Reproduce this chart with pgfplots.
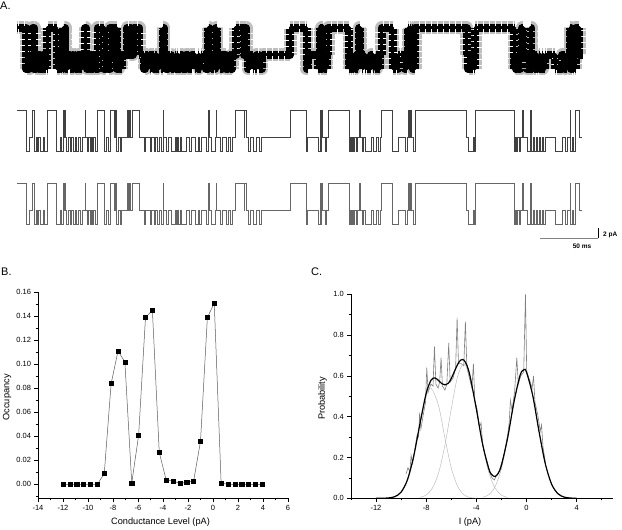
\documentclass[border=0pt]{standalone}
\usepackage{fontspec}
\setmainfont{Liberation Sans}
\usepackage{pgfplots}
\usepackage{pgfplotstable}
\pgfplotsset{compat=1.18}

% idealised record: time (px-scaled ms) and level (pA)
\pgfplotstableread{
x I
17.3 0
26 -8.2
29.3 -5.4
32.7 0
34 -8.2
36 -5.4
37.3 -8.2
38.3 -5.4
40 -8.2
43 -5.4
44.3 -8.2
47.3 0
56.7 -8.2
60 -5.4
61 -8.2
63.3 0
64 -5.4
64.7 0
65.3 -5.4
66 -8.2
68 -5.4
70 -8.2
71.7 -5.4
73.3 -8.2
75 -5.4
76 -8.2
78.3 -5.4
80 -8.2
82 -5.4
85 0
85.7 -5.4
87 -8.2
88.3 -5.4
90 -8.2
91 -5.4
92 -8.2
93.3 -5.4
95 -8.2
97.7 0
104.3 -8.2
106 -5.4
108 -8.2
110 0
114 -5.4
114.7 0
115.3 -5.4
116 0
116.7 -8.2
118 -5.4
120 -8.2
121.7 -5.4
127.3 0
128 -5.4
129 0
129.7 -5.4
130.3 0
130.7 -5.4
132.7 0
139.3 -5.4
144 -8.2
145 -5.4
150 -8.2
151 -5.4
154 -8.2
155 -5.4
157 -8.2
159 -5.4
161 -8.2
163 0
163.7 -5.4
166 -8.2
168.3 -5.4
171 -8.2
175 -5.4
176 -8.2
177 -5.4
178 -8.2
180 -5.4
181.7 -8.2
186 -5.4
189 -8.2
191.7 -5.4
195 -8.2
198 -5.4
199 -8.2
201 -5.4
206 -8.2
208.3 0
209 -5.4
211 -8.2
215 -5.4
216 0
216.7 -5.4
220 -8.2
222 -5.4
226 -8.2
228.3 -5.4
230 -8.2
232 -5.4
235.7 0
244 -5.4
244.7 0
246 -5.4
248 -8.2
250 -5.4
253 -8.2
256.7 -5.4
259 -8.2
261.7 -5.4
290 0
306.7 -8.2
307.7 -5.4
318 -8.2
320 0
321 -8.2
321.7 0
322.3 -5.4
325 -8.2
326.7 -5.4
328.3 0
349.3 -8.2
350 -5.4
351 -8.2
352 -5.4
353 -8.2
354.7 -5.4
356 -8.2
357.3 -5.4
359.3 0
360 -5.4
362 -8.2
363 -5.4
365 -8.2
371 -5.4
373 -8.2
376 -5.4
378 -8.2
380 -5.4
381.7 0
392.7 -8.2
398 -5.4
405 -8.2
407 -5.4
408 0
409 -5.4
410 0
411.7 -5.4
413 -8.2
415 0
466.7 -5.4
468 -8.2
473 -5.4
474 -8.2
475 0
514.3 -8.2
515 -5.4
516 -8.2
517 -5.4
519 -8.2
520 -5.4
522.3 0
523 -5.4
527 -8.2
530.7 0
531.3 -8.2
533 -5.4
534 -8.2
536 -5.4
537 -8.2
539 -5.4
540 -8.2
542 -5.4
543 -8.2
545 -5.4
555 -8.2
562 -5.4
565 -8.2
567 -5.4
570 0
570.7 -8.2
572 -5.4
573 -8.2
575.7 0
579 -5.4
582.3 -5.4
}\ideal

\pgfplotstableread{
x y
-12 0
-11.45 0
-10.9 0
-10.35 0
-9.8 0
-9.25 0
-8.7 0.0089
-8.15 0.0839
-7.6 0.111
-7.05 0.102
-6.5 0.0011
-5.95 0.0408
-5.4 0.139
-4.85 0.145
-4.3 0.0267
-3.75 0.0036
-3.2 0.0028
-2.65 0.0008
-2.1 0.0017
-1.55 0.0028
-1.0 0.0358
-0.45 0.139
0.1 0.151
0.65 0.0011
1.2 0
1.75 0
2.3 0
2.85 0
3.4 0
3.95 0
}\occ

\pgfplotstableread{
x y
-11 0.0017
-10.5 0.008
-10 0.030
-9.5 0.089
-9 0.203
-8.5 0.360
-8 0.498
-7.6 0.540
-7 0.451
-6.5 0.295
-6 0.150
-5.5 0.060
-5 0.018
-4.5 0.004
-4 0.001
}\gone

\pgfplotstableread{
x y
-8.5 0.0042
-8 0.016
-7.5 0.050
-7 0.126
-6.5 0.261
-6 0.437
-5.5 0.595
-5 0.660
-4.5 0.595
-4 0.437
-3.5 0.261
-3 0.126
-2.5 0.050
-2 0.016
-1.5 0.0042
}\gtwo

\pgfplotstableread{
x y
-3.5 0.0045
-3 0.018
-2.5 0.057
-2 0.145
-1.5 0.293
-1 0.471
-0.5 0.605
-0.2 0.630
0 0.619
0.5 0.504
1 0.328
1.5 0.170
2 0.070
2.5 0.023
3 0.006
3.5 0.0013
}\gthree

\pgfplotstableread{
x y
-12 0.0000
-11.5 0.0003
-11 0.0017
-10.5 0.008
-10 0.030
-9.5 0.089
-9 0.204
-8.5 0.364
-8 0.514
-7.6 0.580
-7.3 0.590
-7 0.577
-6.75 0.562
-6.5 0.556
-6.25 0.563
-6 0.587
-5.5 0.655
-5.25 0.677
-5 0.678
-4.75 0.652
-4.5 0.599
-4 0.439
-3.5 0.266
-3 0.144
-2.75 0.115
-2.5 0.107
-2.25 0.123
-2 0.161
-1.5 0.297
-1 0.471
-0.5 0.605
-0.2 0.630
0 0.619
0.5 0.504
1 0.328
1.5 0.170
2 0.070
2.5 0.023
3 0.006
3.5 0.0013
4 0.0002
}\gsum

\pgfplotstableread{
x y
-9.6 0.12
-9.45 0.15
-9.3 0.13
-9.2 0.21
-9.08 0.17
-8.9 0.24
-8.72 0.31
-8.6 0.30
-8.52 0.42
-8.42 0.34
-8.2 0.42
-8.05 0.47
-7.95 0.64
-7.84 0.52
-7.62 0.56
-7.45 0.55
-7.34 0.745
-7.22 0.56
-7.05 0.54
-6.92 0.57
-6.81 0.69
-6.7 0.55
-6.5 0.53
-6.35 0.56
-6.2 0.76
-6.08 0.57
-5.85 0.59
-5.65 0.64
-5.53 0.885
-5.42 0.66
-5.2 0.66
-5.0 0.65
-4.87 0.866
-4.75 0.64
-4.55 0.59
-4.35 0.54
-4.23 0.66
-4.12 0.48
-3.95 0.44
-3.75 0.35
-3.62 0.37
-3.5 0.27
-3.3 0.21
-3.09 0.17
-2.95 0.13
-2.75 0.10
-2.55 0.09
-2.42 0.11
-2.25 0.12
-2.05 0.16
-1.81 0.21
-1.68 0.25
-1.5 0.31
-1.38 0.37
-1.28 0.48
-1.15 0.43
-0.95 0.52
-0.77 0.69
-0.65 0.56
-0.45 0.60
-0.22 0.62
-0.08 1.0
0.02 0.62
0.25 0.58
0.45 0.54
0.56 0.60
0.68 0.47
0.9 0.41
1.1 0.33
1.2 0.36
1.32 0.25
1.5 0.18
}\hist

\pgfplotsset{
  orig/.style={
    scale only axis, anchor=south west,
    axis lines*=left, tick align=outside,
    major tick length=3.5pt, minor tick length=2pt,
    tick style={black, line width=0.5pt},
    axis line style={black, line width=0.6pt},
    tick label style={font=\fontsize{7.5}{9}\selectfont},
    label style={font=\fontsize{9.2}{11}\selectfont},
    /pgf/number format/assume math mode=true,
    clip=false,
  }
}

\begin{document}
\begin{tikzpicture}
\useasboundingbox (0pt,0pt) rectangle (622pt,530pt);

% ---------- Panel A ----------
\begin{axis}[at={(0pt,270pt)}, anchor=south west, scale only axis,
  width=622pt, height=260pt, xmin=0, xmax=622, ymin=-52, ymax=0,
  hide axis, clip=false]
% raw record: noisy band
\addplot[const plot, gray!50, line width=13pt, line join=round, dash pattern=on 0.5pt off 0.7pt, forget plot]
  table[x=x, y expr=\thisrow{I}-5.6] {\ideal};
\addplot[const plot, black, line width=8pt, line join=round, dash pattern=on 0.6pt off 0.6pt, forget plot]
  table[x=x, y expr=\thisrow{I}-5.6] {\ideal};
\addplot[const plot, black, line width=3pt, line join=round, forget plot]
  table[x=x, y expr=\thisrow{I}-5.6] {\ideal};
% idealised record
\addplot[const plot, black!75, line width=0.5pt, forget plot]
  table[x=x, y expr=\thisrow{I}-22] {\ideal};
% filtered record
\addplot[const plot, black!60, line width=0.55pt, forget plot]
  table[x=x, y expr=\thisrow{I}-36.6] {\ideal};
% scale bar
\draw[gray, line width=0.8pt] (axis cs:540,-47.6) -- (axis cs:598,-47.6);
\draw[black, line width=0.8pt] (axis cs:598,-47.6) -- (axis cs:598,-45.6);
\node[anchor=west, inner sep=0pt, font=\fontsize{6.5}{8}\selectfont\bfseries] at (axis cs:603,-47) {2 pA};
\node[inner sep=0pt, font=\fontsize{6.5}{8}\selectfont\bfseries] at (axis cs:582,-49.2) {50 ms};
\end{axis}

\node[anchor=base west, inner sep=0pt, font=\fontsize{11}{13}\selectfont] at (0pt,520.5pt) {A.};
\node[anchor=base west, inner sep=0pt, font=\fontsize{11}{13}\selectfont] at (1pt,254pt) {B.};
\node[anchor=base west, inner sep=0pt, font=\fontsize{11}{13}\selectfont] at (311pt,254pt) {C.};

% ---------- Panel B ----------
\begin{axis}[orig, at={(38pt,31.7pt)}, width=250pt, height=206pt,
  xmin=-14, xmax=6, ymin=-0.01167, ymax=0.16,
  xtick={-14,-12,-10,-8,-6,-4,-2,0,2,4,6},
  minor xtick={-13,-11,-9,-7,-5,-3,-1,1,3,5},
  ytick={0,0.02,0.04,0.06,0.08,0.1,0.12,0.14,0.16},
  minor ytick={-0.01,0.01,0.03,0.05,0.07,0.09,0.11,0.13,0.15},
  yticklabel style={/pgf/number format/.cd, fixed, fixed zerofill, precision=2},
  xlabel={Conductance Level (pA)}, ylabel={Occupancy},
  x label style={at={(axis description cs:0.49,-0.114)}, anchor=center},
  y label style={at={(axis description cs:-0.124,0.49)}, anchor=center},
]
\addplot[gray!70!black, line width=0.5pt, mark=square*, mark size=2.1pt,
  mark options={black, fill=black}] table[x=x, y=y] {\occ};
\end{axis}

% ---------- Panel C ----------
\begin{axis}[orig, at={(350.9pt,31.7pt)}, width=262.1pt, height=204pt,
  xmin=-14, xmax=6.9, ymin=0, ymax=1,
  xtick={-12,-8,-4,0,4}, minor xtick={-14,-10,-6,-2,2,6},
  ytick={0,0.2,0.4,0.6,0.8,1}, minor ytick={0.1,0.3,0.5,0.7,0.9},
  yticklabel style={/pgf/number format/.cd, fixed, fixed zerofill, precision=1},
  xlabel={I (pA)}, ylabel={Probability},
  x label style={at={(axis cs:-4.5,0)}, anchor=center, yshift=-23.5pt},
  y label style={at={(axis description cs:-0.108,0.49)}, anchor=center},
]
\addplot[black!50, line width=0.6pt] table[x=x, y=y] {\hist};
\addplot[gray!60, line width=0.4pt, smooth] table[x=x, y=y] {\gone};
\addplot[gray!60, line width=0.4pt, smooth] table[x=x, y=y] {\gtwo};
\addplot[gray!60, line width=0.4pt, smooth] table[x=x, y=y] {\gthree};
\addplot[black, line width=1.2pt, smooth] table[x=x, y=y] {\gsum};
\end{axis}
\end{tikzpicture}
\end{document}
